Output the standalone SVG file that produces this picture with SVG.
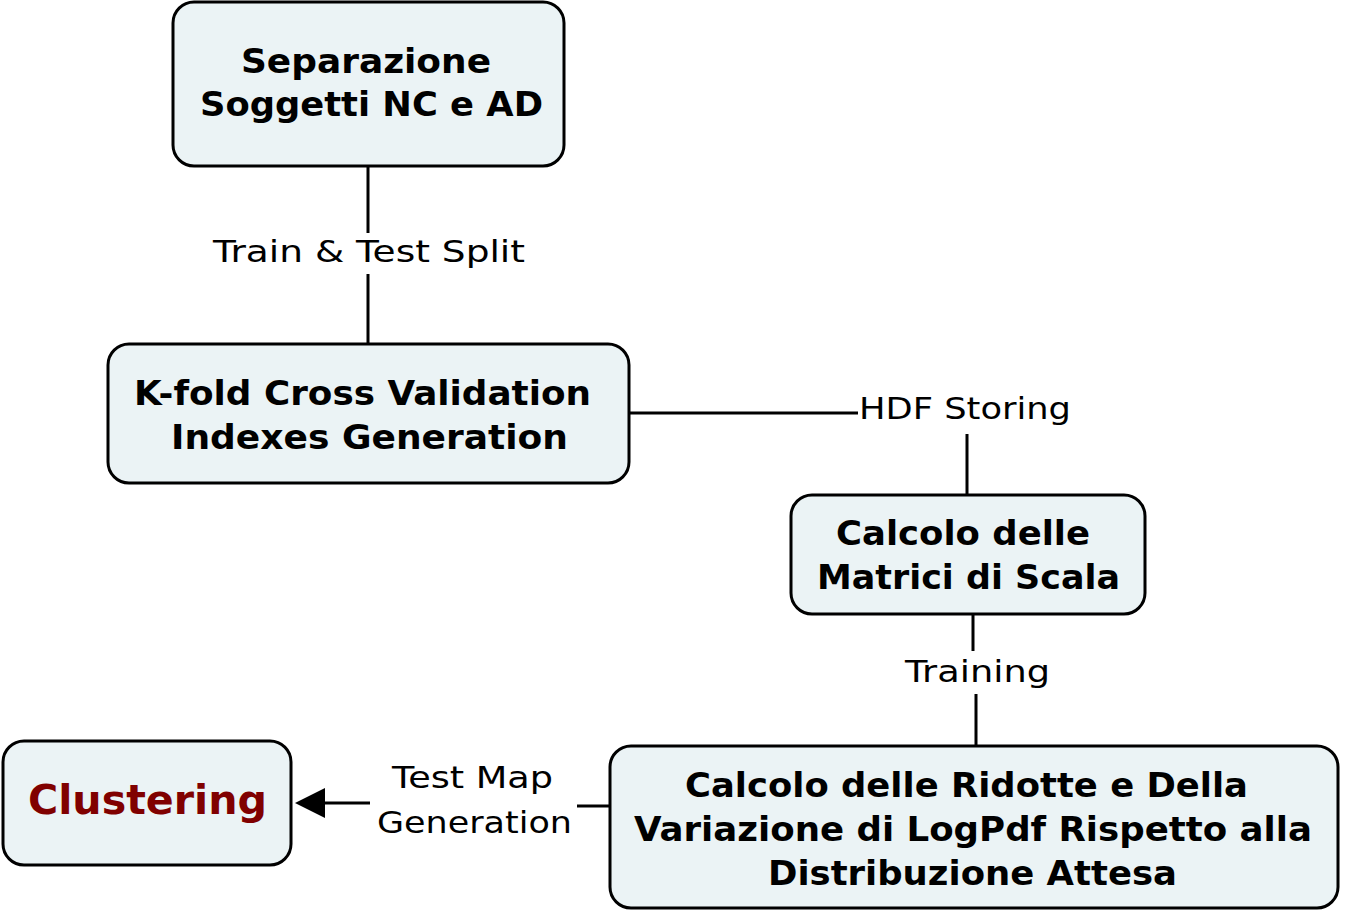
<svg xmlns="http://www.w3.org/2000/svg" width="1346" height="917" viewBox="0 0 1346 917">
<style>
.box{fill:#EBF3F5;stroke:#000;stroke-width:3}
.t{font-family:"DejaVu Sans","Verdana",sans-serif;font-weight:bold;font-size:33px;fill:#000}
.red{fill:#800000;font-size:41px}
.lbl{font-family:"DejaVu Sans","Verdana",sans-serif;font-size:30px;fill:#000}
.c{stroke:#000;stroke-width:3;fill:none}
</style>
<defs>
<marker id="arr" viewBox="0 0 30 30" refX="25" refY="15" markerWidth="30" markerHeight="30" markerUnits="userSpaceOnUse" orient="auto">
<path d="M0,0 L30,15 L0,30 Z" fill="#000"/>
</marker>
</defs>
<rect width="1346" height="917" fill="#fff"/>
<g id="connectors">
<path class="c" d="M368,166 V233 M368,274 V344"/>
<path class="c" d="M629,413 H858 M967,434 V495"/>
<path class="c" d="M973,614 V651 M976,694 V746"/>
<path class="c" d="M610,806 H577"/>
<path class="c" d="M370,803 H300" marker-end="url(#arr)"/>
<text class="lbl" x="213" y="262" textLength="312" lengthAdjust="spacingAndGlyphs">Train &amp; Test Split</text>
<text class="lbl" x="859" y="419" textLength="212" lengthAdjust="spacingAndGlyphs">HDF Storing</text>
<text class="lbl" x="905" y="682" textLength="145" lengthAdjust="spacingAndGlyphs">Training</text>
<text class="lbl" x="392" y="788" textLength="161" lengthAdjust="spacingAndGlyphs">Test Map</text>
<text class="lbl" x="377" y="833" textLength="195" lengthAdjust="spacingAndGlyphs">Generation</text>
</g>
<g id="n1">
<rect class="box" x="173" y="2" width="391" height="164" rx="21"/>
<text class="t" x="241" y="73" textLength="250" lengthAdjust="spacingAndGlyphs">Separazione</text>
<text class="t" x="200" y="116" textLength="343" lengthAdjust="spacingAndGlyphs">Soggetti NC e AD</text>
</g>
<g id="n2">
<rect class="box" x="108" y="344" width="521" height="139" rx="21"/>
<text class="t" x="134" y="405" textLength="457" lengthAdjust="spacingAndGlyphs">K-fold Cross Validation</text>
<text class="t" x="171" y="449" textLength="397" lengthAdjust="spacingAndGlyphs">Indexes Generation</text>
</g>
<g id="n3">
<rect class="box" x="791" y="495" width="354" height="119" rx="21"/>
<text class="t" x="836" y="545" textLength="254" lengthAdjust="spacingAndGlyphs">Calcolo delle</text>
<text class="t" x="817" y="589" textLength="303" lengthAdjust="spacingAndGlyphs">Matrici di Scala</text>
</g>
<g id="n4">
<rect class="box" x="610" y="746" width="728" height="162" rx="21"/>
<text class="t" x="685" y="797" textLength="563" lengthAdjust="spacingAndGlyphs">Calcolo delle Ridotte e Della</text>
<text class="t" x="634" y="841" textLength="678" lengthAdjust="spacingAndGlyphs">Variazione di LogPdf Rispetto alla</text>
<text class="t" x="768" y="885" textLength="409" lengthAdjust="spacingAndGlyphs">Distribuzione Attesa</text>
</g>
<g id="n5">
<rect class="box" x="3" y="741" width="288" height="124" rx="21"/>
<text class="t red" x="28" y="814" textLength="239" lengthAdjust="spacingAndGlyphs">Clustering</text>
</g>
</svg>
